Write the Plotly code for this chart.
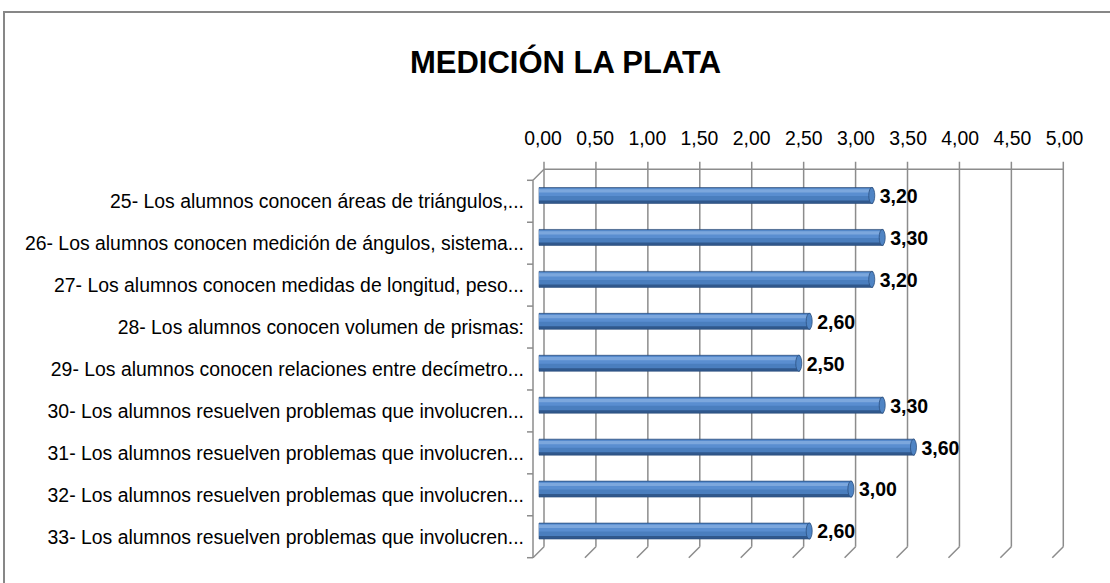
import plotly.graph_objects as go

# ---------------- data ----------------
categories = [
    "25- Los alumnos conocen áreas de triángulos,...",
    "26- Los alumnos conocen medición de ángulos, sistema...",
    "27- Los alumnos conocen medidas de longitud, peso...",
    "28- Los alumnos conocen volumen de prismas:",
    "29- Los alumnos conocen relaciones entre decímetro...",
    "30- Los alumnos resuelven problemas que involucren...",
    "31- Los alumnos resuelven problemas que involucren...",
    "32- Los alumnos resuelven problemas que involucren...",
    "33- Los alumnos resuelven problemas que involucren...",
]
values = [3.20, 3.30, 3.20, 2.60, 2.50, 3.30, 3.60, 3.00, 2.60]
tick_values = [0.0, 0.5, 1.0, 1.5, 2.0, 2.5, 3.0, 3.5, 4.0, 4.5, 5.0]
title_text = "MEDICIÓN LA PLATA"

# ---------------- geometry (pixels) ----------------
W, H = 1110, 583
L, R, T, B = 525, 1075, 158, 568
X0, XS = 539.0, 104.3        # pixel of value 0 for bars, pixels per unit
Y0, YS = 195.5, 41.94        # pixel of first row centre, pixels per row
BACK_X0, BACK_XS = 544.0, 103.86
DEPTH_X, DEPTH_Y = 11.0, 11.0
BACK_TOP, TICK_TOP, BACK_BOT = 169.3, 161.7, 546.7
LABEL_GAP = 7.0
BAR_HALF = 8.0
CAP_RX = 3.0

FONT = "Liberation Sans, Arial, sans-serif"
GRID = "#8C8C8C"


def xv(px):
    return (px - X0) / XS


def yv(py):
    return (py - Y0) / YS


def px_paper_x(px):
    return (px - L) / (R - L)


def px_paper_y(py):
    return (B - py) / (B - T)


rows = list(range(len(categories)))

fig = go.Figure()


def band(top_px, bottom_px, color, line=None):
    # a horizontal bar layer spanning [top_px, bottom_px] relative to row centre
    w = (bottom_px - top_px) / YS
    fig.add_trace(go.Bar(
        x=values, y=rows, orientation="h", width=w, offset=top_px / YS,
        marker=dict(color=color, line=line or dict(width=0)),
        hoverinfo="skip", showlegend=False,
    ))


# cylinder-like bars built from stacked tone bands
band(-BAR_HALF, BAR_HALF, "#30588C", dict(color="#2A4C7B", width=0.6))
band(-7.5, 5, "#4A7EBE")
band(-7, 0.5, "#5A8ED0")
band(-6.2, -3, "#7CA7DD")

# data labels
fig.add_trace(go.Scatter(
    x=[v + LABEL_GAP / XS for v in values], y=[r + 2.5 / YS for r in rows],
    customdata=values, mode="text",
    texttemplate="%{customdata:.2f}", textposition="middle right",
    textfont=dict(family=FONT, size=19.5, color="#000000", weight="bold"),
    hoverinfo="skip", showlegend=False, cliponaxis=False,
))

shapes = []
line = dict(color=GRID, width=1.5)

# rounded end caps of the cylinders
for r, v in zip(rows, values):
    shapes.append(dict(type="circle", xref="x", yref="y", layer="above",
                       x0=v - (CAP_RX + 1) / XS, x1=v + (CAP_RX - 1) / XS,
                       y0=r - BAR_HALF / YS, y1=r + BAR_HALF / YS,
                       fillcolor="#4F84C4", line=dict(color="#2C5080", width=0.8)))

# back grid lines with tick marks and slanted floor continuation
for v in tick_values:
    bx = BACK_X0 + v * BACK_XS
    shapes.append(dict(type="line", xref="x", yref="y", layer="below",
                       x0=xv(bx), x1=xv(bx), y0=yv(TICK_TOP), y1=yv(BACK_BOT), line=line))
    shapes.append(dict(type="line", xref="x", yref="y", layer="below",
                       x0=xv(bx), x1=xv(bx - DEPTH_X), y0=yv(BACK_BOT), y1=yv(BACK_BOT + DEPTH_Y), line=line))

# top edge of back wall
shapes.append(dict(type="line", xref="x", yref="y", layer="below",
                   x0=xv(BACK_X0), x1=xv(BACK_X0 + 5 * BACK_XS),
                   y0=yv(BACK_TOP), y1=yv(BACK_TOP), line=line))

# left (category) wall
wall_x = BACK_X0 - DEPTH_X
wall_top = BACK_TOP + DEPTH_Y
wall_bot = BACK_BOT + DEPTH_Y
shapes.append(dict(type="line", xref="x", yref="y", layer="below",
                   x0=xv(wall_x), x1=xv(wall_x), y0=yv(wall_top), y1=yv(wall_bot), line=line))
shapes.append(dict(type="line", xref="x", yref="y", layer="below",
                   x0=xv(wall_x), x1=xv(BACK_X0), y0=yv(wall_top), y1=yv(BACK_TOP), line=line))
n = len(categories)
for j in range(n + 1):
    py = wall_top + j * (wall_bot - wall_top) / n
    shapes.append(dict(type="line", xref="x", yref="y", layer="below",
                       x0=xv(wall_x - 6), x1=xv(wall_x), y0=yv(py), y1=yv(py), line=line))

# outer chart border (extends past the picture edges)
shapes.append(dict(type="rect", xref="paper", yref="paper",
                   x0=px_paper_x(4), x1=px_paper_x(1130),
                   y0=px_paper_y(12), y1=px_paper_y(600),
                   line=dict(color="#878787", width=2), layer="below"))

fig.update_layout(
    width=W, height=H,
    margin=dict(l=L, r=W - R, t=T, b=H - B, pad=0),
    paper_bgcolor="white", plot_bgcolor="rgba(0,0,0,0)",
    barmode="overlay",
    separators=",.",
    shapes=shapes,
    title=dict(text="<b>" + title_text + "</b>", x=565.5 / W, xref="container", xanchor="center",
               y=1 - 62.4 / H, yref="container", yanchor="middle",
               font=dict(family=FONT, size=31, color="#000000")),
    xaxis=dict(range=[xv(L), xv(R)], side="top", tickvals=tick_values, tickformat=".2f",
               showgrid=False, zeroline=False, showline=False, ticks="",
               ticklabelshift=4, ticklabelstandoff=8,
               tickfont=dict(family=FONT, size=19.4, color="#000000")),
    yaxis=dict(range=[yv(B), yv(T)], tickvals=rows, ticktext=categories,
               showgrid=False, zeroline=False, showline=False, ticks="",
               ticklabelstandoff=0, ticklabelshift=-6,
               tickfont=dict(family=FONT, size=19.4, color="#000000")),
    showlegend=False,
)

fig.write_html("out.html", config={"displayModeBar": False},
               post_script="document.body.style.margin='0';document.body.style.overflow='hidden';")
